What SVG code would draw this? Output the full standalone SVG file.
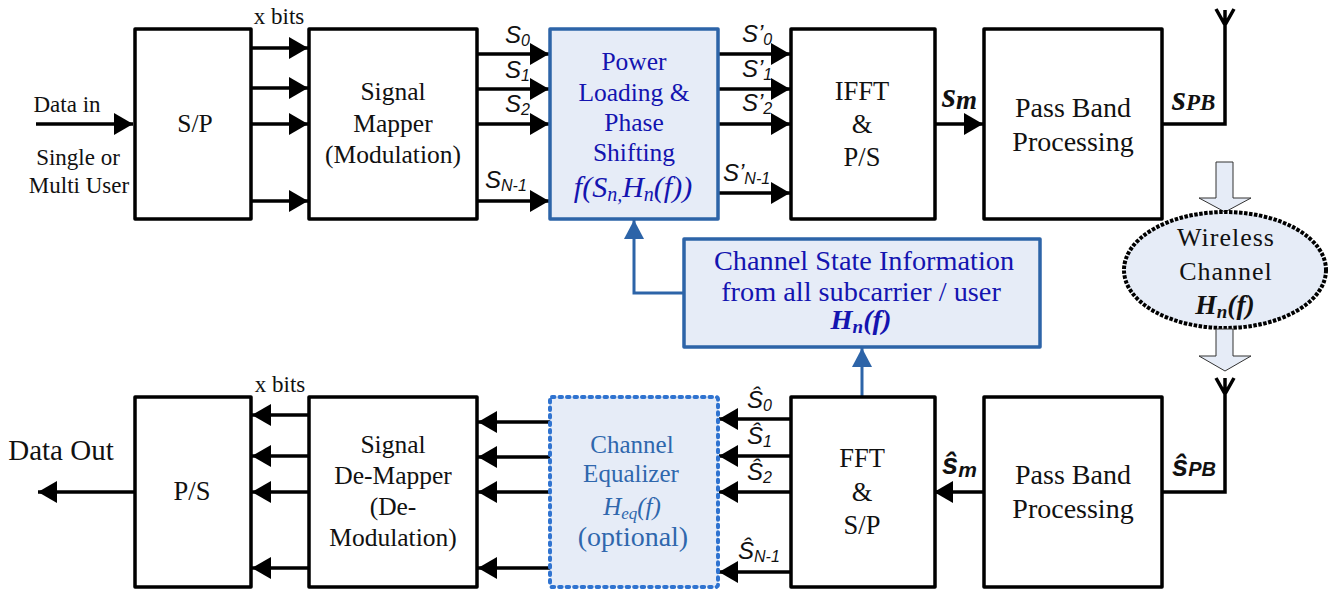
<svg xmlns="http://www.w3.org/2000/svg" width="1343" height="592" viewBox="0 0 1343 592">
<style>
text{font-family:"Liberation Serif",serif;fill:#111;text-anchor:middle}
.box{fill:#fff;stroke:#000;stroke-width:3.5;stroke-linejoin:round}
.blue{fill:#e6ecf7;stroke:#2d64a8;stroke-width:3.5;stroke-linejoin:round}
.l{fill:none;stroke:#000;stroke-width:3.5}
.b{fill:none;stroke:#2d64a8;stroke-width:3}
.s{font-family:"Liberation Sans",sans-serif;font-style:italic;font-size:24px;text-anchor:start}
.s tspan{font-size:16px}
.t{font-size:25.5px}
.u{font-size:26.5px}
.pb{font-size:28px}
.c{font-size:23px}
.pw{font-size:25.5px;fill:#1414b0}
.csi{font-size:28.3px;fill:#1414b0}
.eq{font-size:25px;fill:#2f67ad}
.blk{fill:#e6ecf7;stroke:#333;stroke-width:1}
</style>
<defs>
<marker id="a" markerUnits="userSpaceOnUse" markerWidth="20" markerHeight="22" refX="19" refY="11" orient="auto"><path d="M0 0L19 11L0 22L0 0Z" fill="#000"/></marker>
<marker id="ab" markerUnits="userSpaceOnUse" markerWidth="20" markerHeight="22" refX="19" refY="10" orient="auto"><path d="M0 0L19 10L0 20Z" fill="#2d64a8"/></marker>
</defs>
<g id="connectors">
<path class="l" marker-end="url(#a)" d="M36 124H133"/>
<path class="l" marker-end="url(#a)" d="M251 48H308"/>
<path class="l" marker-end="url(#a)" d="M251 88H308"/>
<path class="l" marker-end="url(#a)" d="M251 124H308"/>
<path class="l" marker-end="url(#a)" d="M251 201H308"/>
<path class="l" marker-end="url(#a)" d="M477 54H549"/>
<path class="l" marker-end="url(#a)" d="M477 89H549"/>
<path class="l" marker-end="url(#a)" d="M477 124H549"/>
<path class="l" marker-end="url(#a)" d="M477 201H549"/>
<path class="l" marker-end="url(#a)" d="M718 54H790"/>
<path class="l" marker-end="url(#a)" d="M718 89H790"/>
<path class="l" marker-end="url(#a)" d="M718 124H790"/>
<path class="l" marker-end="url(#a)" d="M718 193H790"/>
<path class="l" marker-end="url(#a)" d="M935 124H983"/>
<path class="l" d="M1162 124H1225V10M1216 9L1225 25L1234 9"/>
<path class="l" d="M1162 492H1225V378M1216 378L1225 394L1234 378"/>
<path class="l" marker-end="url(#a)" d="M984 492H934"/>
<path class="l" marker-end="url(#a)" d="M791 419H719"/>
<path class="l" marker-end="url(#a)" d="M791 456H719"/>
<path class="l" marker-end="url(#a)" d="M791 492H719"/>
<path class="l" marker-end="url(#a)" d="M791 572H719"/>
<path class="l" marker-end="url(#a)" d="M550 422H478"/>
<path class="l" marker-end="url(#a)" d="M550 457H478"/>
<path class="l" marker-end="url(#a)" d="M550 492H478"/>
<path class="l" marker-end="url(#a)" d="M550 568H478"/>
<path class="l" marker-end="url(#a)" d="M309 415H252"/>
<path class="l" marker-end="url(#a)" d="M309 456H252"/>
<path class="l" marker-end="url(#a)" d="M309 492H252"/>
<path class="l" marker-end="url(#a)" d="M309 568H252"/>
<path class="l" marker-end="url(#a)" d="M135 492H38"/>
<path class="b" marker-end="url(#ab)" d="M684 293H634V220"/>
<path class="b" marker-end="url(#ab)" d="M862 397V348"/>
</g>
<g id="labels">
<text class="c" x="67" y="112">Data in</text>
<text class="c" x="78" y="165">Single or</text>
<text class="c" x="79" y="193">Multi User</text>
<text class="c" x="279" y="24">x bits</text>
<text x="61" y="460" style="font-size:29px">Data Out</text>
<text class="c" x="280" y="392">x bits</text>
<text class="s" x="505" y="43">S<tspan dy="3">0</tspan></text>
<text class="s" x="505" y="78">S<tspan dy="3">1</tspan></text>
<text class="s" x="505" y="112">S<tspan dy="3">2</tspan></text>
<text class="s" x="485" y="188">S<tspan dy="3">N-1</tspan></text>
<text class="s" x="742" y="42">S’<tspan dy="3">0</tspan></text>
<text class="s" x="742" y="77">S’<tspan dy="3">1</tspan></text>
<text class="s" x="742" y="111">S’<tspan dy="3">2</tspan></text>
<text class="s" x="723" y="181">S’<tspan dy="3">N-1</tspan></text>
<text x="942" y="107" style="font-size:36px;font-weight:bold;font-style:italic;text-anchor:start">s<tspan dy="2" style="font-size:27px">m</tspan></text>
<text x="1172" y="110" style="font-size:36px;font-weight:bold;font-style:italic;text-anchor:start">s<tspan style="font-size:23px">PB</tspan></text>
<text class="s" x="747" y="408">Ŝ<tspan dy="3">0</tspan></text>
<text class="s" x="747" y="444">Ŝ<tspan dy="3">1</tspan></text>
<text class="s" x="747" y="480">Ŝ<tspan dy="3">2</tspan></text>
<text class="s" x="738" y="559">Ŝ<tspan dy="3">N-1</tspan></text>
<text x="942" y="474" style="font-family:'Liberation Sans',sans-serif;font-size:29px;font-weight:bold;font-style:italic;text-anchor:start">ŝ<tspan dy="3" style="font-size:21px">m</tspan></text>
<text x="1172" y="476" style="font-family:'Liberation Sans',sans-serif;font-size:29px;font-weight:bold;font-style:italic;text-anchor:start">ŝ<tspan style="font-size:20px">PB</tspan></text>
</g>
<g id="sp"><rect class="box" x="135" y="29" width="116" height="190"/><text class="t" x="195" y="132">S/P</text></g>
<g id="mapper"><rect class="box" x="309" y="29" width="168" height="190"/><text class="t" x="393" y="100">Signal</text><text class="t" x="393" y="132">Mapper</text><text class="t" x="393" y="163">(Modulation)</text></g>
<g id="power"><rect class="blue" x="550" y="29" width="168" height="190"/><text class="pw" x="634" y="70">Power</text><text class="pw" x="634" y="101">Loading &amp;</text><text class="pw" x="634" y="131">Phase</text><text class="pw" x="634" y="161">Shifting</text><text class="pw" style="font-size:30px" x="633" y="197" font-style="italic">f(S<tspan dy="4" style="font-size:20px">n,</tspan><tspan dy="-4">H</tspan><tspan dy="4" style="font-size:20px">n</tspan><tspan dy="-4">(f))</tspan></text></g>
<g id="ifft"><rect class="box" x="791" y="29" width="144" height="190"/><text class="u" x="862" y="100">IFFT</text><text class="u" x="862" y="133">&amp;</text><text class="u" x="862" y="166">P/S</text></g>
<g id="passband-tx"><rect class="box" x="984" y="29" width="178" height="190"/><text class="pb" x="1073" y="117">Pass Band</text><text class="pb" x="1073" y="151">Processing</text></g>
<g id="csi"><rect class="blue" x="684" y="239" width="356" height="108"/><text class="csi" x="864" y="270">Channel State Information</text><text class="csi" x="861" y="301">from all subcarrier / user</text><text class="csi" x="861" y="329" font-weight="bold" font-style="italic">H<tspan dy="4" style="font-size:19px">n</tspan><tspan dy="-4">(f)</tspan></text></g>
<g id="channel">
<path class="blk" d="M1216 162H1233V198H1251L1225 212L1199 198H1216Z"/>
<ellipse cx="1225" cy="270" rx="101" ry="58" style="fill:#e6ecf7;stroke:#000;stroke-width:4;stroke-dasharray:3.5 1.5"/>
<path class="blk" d="M1216 329H1233V356H1251L1225 371L1199 356H1216Z"/>
<text x="1226" y="246" style="font-size:26px;letter-spacing:1px">Wireless</text><text x="1226" y="280" style="font-size:26px;letter-spacing:1px">Channel</text><text x="1225" y="314" style="font-size:27.5px;font-weight:bold;font-style:italic">H<tspan dy="4" style="font-size:19px">n</tspan><tspan dy="-4">(f)</tspan></text></g>
<g id="ps"><rect class="box" x="135" y="397" width="116" height="190"/><text class="u" x="192" y="500">P/S</text></g>
<g id="demapper"><rect class="box" x="309" y="397" width="168" height="190"/><text class="t" x="393" y="453">Signal</text><text class="t" x="393" y="484">De-Mapper</text><text class="t" x="393" y="515">(De-</text><text class="t" x="393" y="546">Modulation)</text></g>
<g id="equalizer"><rect x="550" y="397" width="168" height="190" rx="2" style="fill:#e6ecf7;stroke:#2f73d0;stroke-width:4;stroke-dasharray:2.5 5;stroke-linecap:round"/><text class="eq" x="632" y="453">Channel</text><text class="eq" x="631" y="482">Equalizer</text><text class="eq" x="632" y="515" font-style="italic">H<tspan dy="4" style="font-size:17px">eq</tspan><tspan dy="-4">(f)</tspan></text><text class="eq" style="font-size:28px" x="633" y="546">(optional)</text></g>
<g id="fft"><rect class="box" x="791" y="397" width="144" height="190"/><text class="u" x="862" y="467">FFT</text><text class="u" x="862" y="501">&amp;</text><text class="u" x="862" y="534">S/P</text></g>
<g id="passband-rx"><rect class="box" x="984" y="397" width="178" height="190"/><text class="pb" x="1073" y="484">Pass Band</text><text class="pb" x="1073" y="518">Processing</text></g>
</svg>
